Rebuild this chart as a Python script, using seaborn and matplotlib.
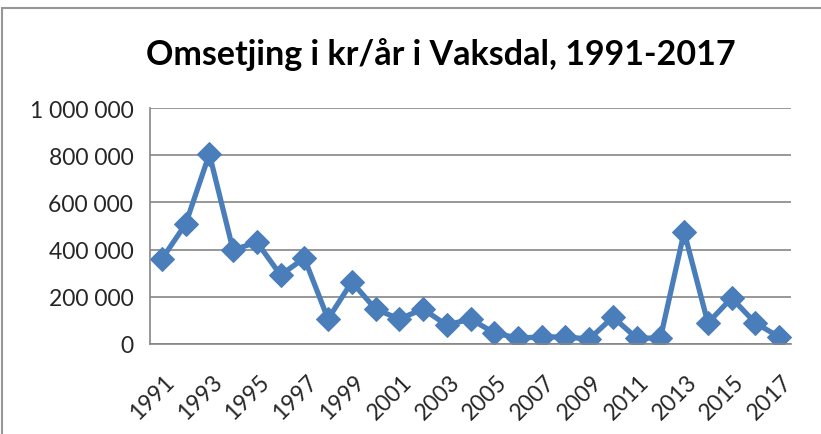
import matplotlib
matplotlib.use("Agg")
import matplotlib.pyplot as plt
import matplotlib.transforms as mtransforms
import seaborn as sns
import pandas as pd
from matplotlib.ticker import FixedLocator, FuncFormatter

years = list(range(1991, 2018))
omsetjing = [360000, 508000, 805000, 398000, 432000, 292000, 364000, 106000, 263000,
             148000, 106000, 148000, 80000, 106000, 47000, 25000, 30000, 30000, 21000,
             114000, 25000, 25000, 475000, 89000, 195000, 89000, 30000]
ytick_vals = [0, 200000, 400000, 600000, 800000, 1000000]
title = "Omsetjing i kr/år i Vaksdal, 1991-2017"

df = pd.DataFrame({"year": years, "value": omsetjing})

sns.set_style("white")
plt.rcParams["font.family"] = ["Lato", "DejaVu Sans"]

fig = plt.figure(figsize=(8.21, 4.35), dpi=100)
ax = fig.add_axes([150/821, (435-345)/435, (791-150)/821, (345-109)/435])

color = "#4A7EBB"
sns.lineplot(data=df, x="year", y="value", ax=ax, color=color, linewidth=3.8,
             marker="D", markersize=12, markeredgecolor=color, markerfacecolor=color)

ax.set_xlim(years[0] - 0.5, years[-1] + 0.5)
ax.set_ylim(0, 1000000)
ax.set_xlabel("")
ax.set_ylabel("")

grid_c = "#868686"
ax.yaxis.set_major_locator(FixedLocator(ytick_vals))
ax.yaxis.set_major_formatter(FuncFormatter(lambda v, p: f"{int(v):,}".replace(",", " ")))
ax.grid(axis="y", color=grid_c, linewidth=1.2)
ax.grid(axis="x", visible=False)

# category boundaries as tick marks, labels at odd years
ax.xaxis.set_major_locator(FixedLocator([y - 0.5 for y in years] + [years[-1] + 0.5]))
ax.xaxis.set_major_formatter(FuncFormatter(lambda v, p: ""))
ax.xaxis.set_minor_locator(FixedLocator(years[::2]))
ax.xaxis.set_minor_formatter(FuncFormatter(lambda v, p: f"{int(round(v))}"))
ax.tick_params(axis="x", which="major", direction="out", length=6, width=1.2, color=grid_c)
ax.tick_params(axis="x", which="minor", length=0, labelsize=16.5, pad=19)
offset = mtransforms.ScaledTranslation(2/100, 0, fig.dpi_scale_trans)
for lab in ax.get_xticklabels(minor=True):
    lab.set_rotation(45)
    lab.set_ha("right")
    lab.set_va("top")
    lab.set_rotation_mode("anchor")
    lab.set_transform(lab.get_transform() + offset)
ax.tick_params(axis="y", which="major", direction="out", length=6, width=1.2, color=grid_c,
               labelsize=16.5, pad=6)

for s in ["top", "right"]:
    ax.spines[s].set_visible(False)
for s in ["left", "bottom"]:
    ax.spines[s].set_color(grid_c)
    ax.spines[s].set_linewidth(1.2)

fig.text(441/821, 1 - 55/435, title, ha="center", va="center", fontsize=24.5,
         fontweight="bold", color="black")

# chart area border (only left and top edges visible)
fig.patches.append(plt.Rectangle((1.5/821, -10/435), 830/821, (435 - 9 + 10)/435,
                                 transform=fig.transFigure, fill=False,
                                 edgecolor="#969696", linewidth=1.5))

fig.savefig("out.png", dpi=100)
